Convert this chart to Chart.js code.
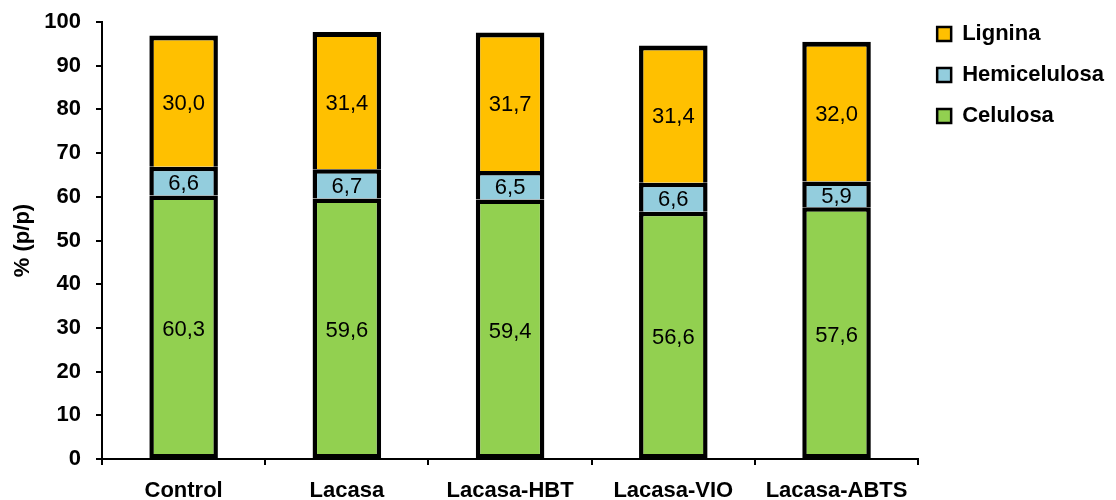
<!DOCTYPE html>
<html>
<head>
<meta charset="utf-8">
<script src="https://cdn.jsdelivr.net/npm/chart.js@4"></script>
<style>
  html, body { margin: 0; padding: 0; background: #fff; }
  #wrap { width: 1116px; height: 500px; }
</style>
</head>
<body>
<div id="wrap"><canvas id="composicionChart"></canvas></div>
<script>
const tratamientos = ['Control', 'Lacasa', 'Lacasa-HBT', 'Lacasa-VIO', 'Lacasa-ABTS'];
const celulosa = [60.3, 59.6, 59.4, 56.6, 57.6];
const hemicelulosa = [6.6, 6.7, 6.5, 6.6, 5.9];
const lignina = [30.0, 31.4, 31.7, 31.4, 32.0];
const yTicks = [0, 10, 20, 30, 40, 50, 60, 70, 80, 90, 100];

const fuente = '"Liberation Sans", Arial, sans-serif';

// etiquetas con el valor dentro de cada segmento (coma decimal)
const valoresEnBarras = {
    id: 'valoresEnBarras',
    afterDatasetsDraw(chart) {
        const ctx = chart.ctx;
        ctx.save();
        ctx.font = '22px ' + fuente;
        ctx.fillStyle = '#000';
        ctx.textAlign = 'center';
        ctx.textBaseline = 'middle';
        chart.data.datasets.forEach((ds, i) => {
            chart.getDatasetMeta(i).data.forEach((bar, j) => {
                const p = bar.getProps(['x', 'y', 'base'], true);
                const texto = ds.data[j].toFixed(1).replace('.', ',');
                ctx.fillText(texto, p.x, (p.y + p.base) / 2 + 3);
            });
        });
        ctx.restore();
    }
};

// el separador entre segmentos lo dibuja solo el borde superior de cada uno
function crearSerie(label, data, color, borde) {
    return {
        label,
        data,
        backgroundColor: color,
        borderColor: '#000',
        borderWidth: borde,
        borderSkipped: false,
        categoryPercentage: 1,
        barPercentage: 0.42
    };
}

window.addEventListener('DOMContentLoaded', () => {
    const ctx = document.getElementById('composicionChart').getContext('2d');
    new Chart(ctx, {
        type: 'bar',
        data: {
            labels: tratamientos,
            datasets: [
                crearSerie('Celulosa', celulosa, '#92D050', { top: 4.5, bottom: 4, left: 4.5, right: 4.5 }),
                crearSerie('Hemicelulosa', hemicelulosa, '#93CDDD', { top: 4.5, bottom: 0, left: 4.5, right: 4.5 }),
                crearSerie('Lignina', lignina, '#FFC000', { top: 5, bottom: 0, left: 4.5, right: 4.5 })
            ]
        },
        options: {
            responsive: true,
            maintainAspectRatio: false,
            animation: false,
            layout: { padding: { top: 4, left: 10, right: 2, bottom: 0 } },
            plugins: {
                tooltip: { enabled: false },
                legend: {
                    position: 'right',
                    align: 'start',
                    reverse: true,
                    labels: {
                        boxWidth: 14,
                        boxHeight: 14,
                        padding: 19,
                        color: '#000',
                        font: { family: fuente, size: 22, weight: 'bold' },
                        generateLabels(chart) {
                            const items = Chart.defaults.plugins.legend.labels.generateLabels(chart);
                            items.forEach(it => { it.lineWidth = 2.5; });
                            return items;
                        }
                    }
                }
            },
            scales: {
                x: {
                    stacked: true,
                    afterFit(axis) {
                        axis.height = 41;
                    },
                    grid: {
                        offset: true,
                        drawOnChartArea: false,
                        color: '#000',
                        lineWidth: 2,
                        tickLength: 6
                    },
                    border: { color: '#000', width: 2 },
                    ticks: {
                        color: '#000',
                        padding: 15,
                        font: { family: fuente, size: 22, weight: 'bold', lineHeight: 1 }
                    }
                },
                y: {
                    stacked: true,
                    min: 0,
                    max: 100,
                    afterBuildTicks(axis) {
                        axis.ticks = yTicks.map(v => ({ value: v }));
                    },
                    afterFit(axis) {
                        axis.width = 92;
                        axis.paddingTop = 22;
                    },
                    grid: {
                        drawOnChartArea: false,
                        color: '#000',
                        lineWidth: 2,
                        tickLength: 6
                    },
                    border: { color: '#000', width: 2 },
                    ticks: {
                        color: '#000',
                        padding: 15,
                        font: { family: fuente, size: 22, weight: 'bold' }
                    },
                    title: {
                        display: true,
                        text: '% (p/p)',
                        color: '#000',
                        padding: { top: 0, bottom: 8 },
                        font: { family: fuente, size: 22, weight: 'bold' }
                    }
                }
            }
        },
        plugins: [valoresEnBarras]
    });
});
</script>
</body>
</html>
